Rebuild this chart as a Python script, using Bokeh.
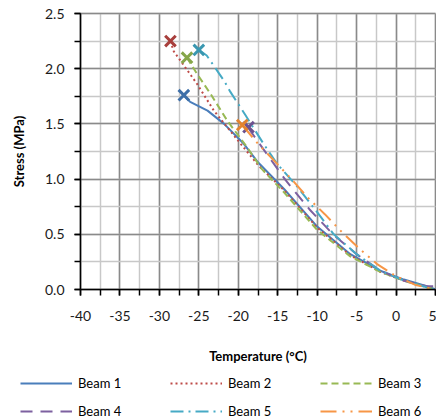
from bokeh.plotting import figure
from bokeh.models import Legend, LegendItem, SingleIntervalTicker, Range1d, CustomJSTickFormatter
from bokeh.embed import file_html
from bokeh.resources import INLINE

# Data
beam_names = ["Beam 1", "Beam 2", "Beam 3", "Beam 4", "Beam 5", "Beam 6"]

t1 = [-26.9, -26.1, -23.9, -21.8, -19.3, -17.6, -14.2, -10.0, -5.8, -2.0, 1.0, 3.9, 5.0]
s1 = [1.76, 1.70, 1.62, 1.50, 1.32, 1.16, 0.91, 0.57, 0.32, 0.17, 0.09, 0.03, 0.0]

t2 = [-28.6, -28.2, -25.2, -23.1, -19.7, -17.4, -14.2, -10.0, -5.8, -2.0, 1.0, 3.9, 5.0]
s2 = [2.25, 2.16, 1.86, 1.62, 1.32, 1.12, 0.90, 0.56, 0.31, 0.16, 0.08, 0.02, 0.0]

t3 = [-26.5, -25.2, -23.5, -21.4, -18.9, -17.0, -14.2, -10.0, -5.8, -2.0, 1.0, 3.9, 5.0]
s3 = [2.10, 1.95, 1.77, 1.53, 1.29, 1.09, 0.88, 0.54, 0.30, 0.16, 0.08, 0.02, 0.0]

t4 = [-18.7, -18.5, -15.5, -14.0, -10.9, -8.0, -5.0, -2.0, 1.0, 3.9, 5.0]
s4 = [1.47, 1.44, 1.14, 0.99, 0.72, 0.50, 0.32, 0.17, 0.08, 0.03, 0.03]

t5 = [-25.0, -24.0, -21.8, -21.0, -19.1, -16.8, -15.1, -12.5, -10.0, -7.9, -5.0, -2.0, 1.0, 3.9, 5.0]
s5 = [2.17, 2.12, 1.89, 1.79, 1.58, 1.32, 1.14, 0.93, 0.70, 0.50, 0.32, 0.17, 0.08, 0.02, 0.0]

t6 = [-19.5, -17.5, -15.1, -13.0, -11.3, -9.0, -7.0, -4.5, -2.4, 0.0, 2.5, 5.0]
s6 = [1.49, 1.32, 1.14, 0.98, 0.84, 0.68, 0.53, 0.36, 0.23, 0.12, 0.04, 0.0]

temps = [t1, t2, t3, t4, t5, t6]
stresses = [s1, s2, s3, s4, s5, s6]

x_min, x_max = -40, 5
y_min, y_max = 0.0, 2.5

colors = ["#4A7EBB", "#BE4B48", "#98B954", "#7D60A0", "#46AAC5", "#F79646"]
marker_colors = ["#3E6FA8", "#A83F3C", "#86A64A", "#6D5290", "#3A97B0", "#E3842F"]
dashes = ["solid", "2 3", "7 4", "12 8", "13 5 2 5", "16 6 2 6 2 6"]

FONT = "Lato"

# Canvas / plot-area geometry (pixels)
W, H = 436, 420
left_px, right_px, top_px, bottom_px = 80, 435, 13, 289
kx = (right_px - left_px) / (x_max - x_min)
ky = (bottom_px - top_px) / (y_max - y_min)
xr = Range1d(x_min - left_px / kx, x_max + (W - right_px) / kx)
yr = Range1d(y_min - (H - bottom_px) / ky, y_max + top_px / ky)

p = figure(width=W, height=H, output_backend="svg", toolbar_location=None,
           x_range=xr, y_range=yr,
           min_border_left=0, min_border_right=0, min_border_top=0, min_border_bottom=0)
p.outline_line_color = None
p.background_fill_color = "white"
p.border_fill_color = "white"

p.xaxis.fixed_location = y_min
p.yaxis.fixed_location = x_min
p.xaxis.bounds = (x_min, x_max)
p.yaxis.bounds = (y_min, y_max)

p.xaxis.ticker = SingleIntervalTicker(interval=5, num_minor_ticks=2)
p.yaxis.ticker = SingleIntervalTicker(interval=0.5, num_minor_ticks=2)
p.xaxis.formatter = CustomJSTickFormatter(code="return tick.toFixed(0);")
p.yaxis.formatter = CustomJSTickFormatter(code="return tick.toFixed(1);")

for ax in (p.xaxis, p.yaxis):
    ax.axis_line_color = "black"
    ax.axis_line_width = 1.5
    ax.major_tick_line_color = "black"
    ax.minor_tick_line_color = "black"
    ax.major_tick_line_width = 1.5
    ax.minor_tick_line_width = 1.5
    ax.major_tick_in = 0
    ax.minor_tick_in = 0
    ax.major_tick_out = 6
    ax.minor_tick_out = 6
    ax.major_label_text_font = FONT
    ax.major_label_text_font_size = "14px"
    ax.major_label_text_color = "#1a1a1a"
    ax.axis_label_text_font = FONT
    ax.axis_label_text_font_size = "13px"
    ax.axis_label_text_font_style = "bold"
    ax.axis_label_text_color = "black"

p.xaxis.axis_label = "Temperature (°C)"
p.yaxis.axis_label = "Stress (MPa)"
p.xaxis.major_label_standoff = 15
p.xaxis.axis_label_standoff = 24
p.yaxis.major_label_standoff = 10
p.yaxis.axis_label_standoff = 15

for g in (p.xgrid, p.ygrid):
    g.grid_line_color = "#8A8A8A"
    g.grid_line_width = 1.5
    g.minor_grid_line_color = "#C8C8C8"
    g.minor_grid_line_width = 1.5
p.xgrid.bounds = (x_min, x_max)
p.ygrid.bounds = (y_min, y_max)
p.xgrid.cross_bounds = (y_min, y_max)
p.ygrid.cross_bounds = (x_min, x_max)

items = []
for name, t, s, c, mc, d in zip(beam_names, temps, stresses, colors, marker_colors, dashes):
    r = p.line(t, s, line_color=c, line_width=2, line_dash=d)
    p.scatter([t[0]], [s[0]], marker="x", size=15, line_color=mc, line_width=3)
    items.append(LegendItem(label=name, renderers=[r]))

legend = Legend(items=items, orientation="horizontal", ncols=3,
                location=(20, 1), glyph_width=52, glyph_height=16,
                label_height=16, label_width=80, label_standoff=6, spacing=12,
                padding=0, margin=0, border_line_color=None, background_fill_alpha=0,
                label_text_font=FONT, label_text_font_size="13px", label_text_color="black")
p.add_layout(legend, "center")

open("out.html", "w").write(file_html(p, INLINE))
